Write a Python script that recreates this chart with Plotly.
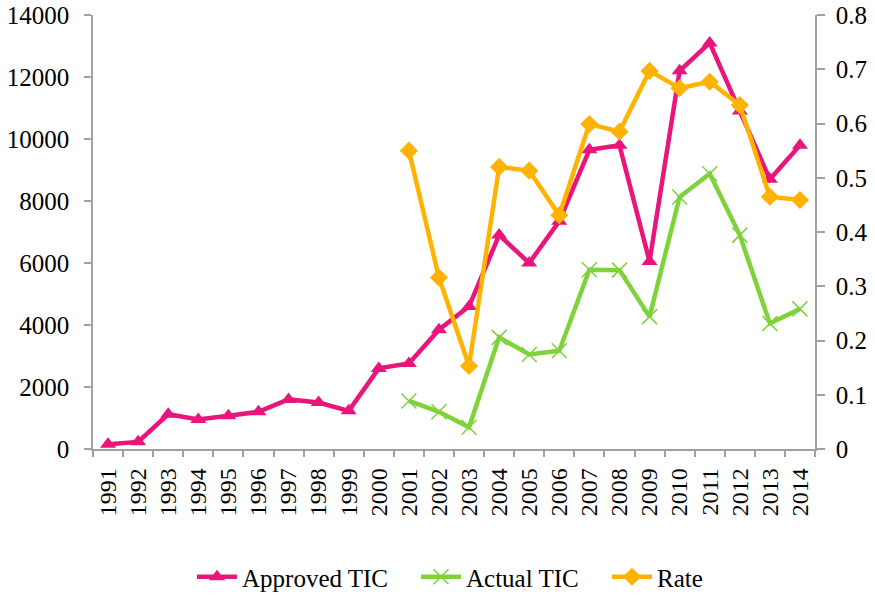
import plotly.graph_objects as go

years = [str(y) for y in range(1991, 2015)]
approved_tic = [150, 230, 1120, 950, 1070, 1200, 1600, 1500, 1230, 2600, 2760, 3850,
                4600, 6900, 6000, 7350, 9650, 9800, 6050, 12200, 13100, 10900, 8700, 9800]
actual_tic = [None] * 10 + [1550, 1200, 700, 3600, 3050, 3170, 5780, 5770, 4270,
                            8130, 8880, 6900, 4050, 4520]
rate = [None] * 10 + [0.550, 0.316, 0.153, 0.520, 0.513, 0.431, 0.599, 0.585, 0.697,
                      0.665, 0.677, 0.634, 0.465, 0.459]

left_ticks = [0, 2000, 4000, 6000, 8000, 10000, 12000, 14000]
left_labels = ["0", "2000", "4000", "6000", "8000", "10000", "12000", "14000"]
right_ticks = [0, 0.1, 0.2, 0.3, 0.4, 0.5, 0.6, 0.7, 0.8]
right_labels = ["0", "0.1", "0.2", "0.3", "0.4", "0.5", "0.6", "0.7", "0.8"]

PINK = "#E9157A"
GREEN = "#7ED23A"
ORANGE = "#FFB300"
AXIS = "#A0A0A0"
FONT = "Liberation Serif"

fig = go.Figure()
fig.add_trace(go.Scatter(x=years, y=approved_tic, name="Approved TIC", mode="lines+markers",
                         line=dict(color=PINK, width=4.5), legend="legend",
                         marker=dict(symbol="triangle-up", size=14, color=PINK)))
fig.add_trace(go.Scatter(x=years, y=actual_tic, name="Actual TIC", mode="lines+markers",
                         line=dict(color=GREEN, width=4.5), legend="legend2",
                         marker=dict(symbol="x-thin", size=15, color=GREEN,
                                     line=dict(color=GREEN, width=1.5))))
fig.add_trace(go.Scatter(x=years, y=rate, name="Rate", mode="lines+markers", yaxis="y2",
                         line=dict(color=ORANGE, width=4.5), legend="legend3",
                         marker=dict(symbol="diamond", size=14, color=ORANGE)))

def leg(xpx):
    return dict(orientation="h", xref="container", yref="container",
                x=xpx / 875, xanchor="left", y=1 - 577 / 595, yanchor="middle",
                font=dict(size=25, family=FONT, color="black"), itemwidth=40,
                bgcolor="rgba(0,0,0,0)")

fig.update_layout(
    width=875, height=595,
    margin=dict(l=93, r=60, t=15, b=146),
    paper_bgcolor="white", plot_bgcolor="white",
    font=dict(family=FONT, color="black", size=23),
    showlegend=True,
    legend=leg(192), legend2=leg(416), legend3=leg(607),
    xaxis=dict(type="category", range=[-0.5, 23.5], showgrid=False, zeroline=False,
               showline=True, linecolor=AXIS, linewidth=1.5, ticks="outside",
               ticklen=6, tickcolor=AXIS, tickwidth=1.5, tickson="boundaries",
               tickangle=-90, tickfont=dict(size=24, family=FONT),
               ticklabelstandoff=8, automargin=False),
    yaxis=dict(range=[0, 14000], tickvals=left_ticks, ticktext=left_labels,
               showgrid=False, zeroline=False,
               showline=True, linecolor=AXIS, linewidth=1.5, ticks="outside",
               ticklen=7, tickcolor=AXIS, tickwidth=1.5,
               tickfont=dict(size=25, family=FONT), ticklabelstandoff=10,
               automargin=False),
    yaxis2=dict(range=[0, 0.8], tickvals=right_ticks, ticktext=right_labels,
                overlaying="y", side="right", showgrid=False, zeroline=False,
                showline=True, linecolor=AXIS, linewidth=1.5, ticks="outside",
                ticklen=8, tickcolor=AXIS, tickwidth=1.5,
                tickfont=dict(size=25, family=FONT), ticklabelstandoff=6,
                automargin=False),
)

fig.write_html("out.html", config={"displayModeBar": False},
               post_script="document.body.style.margin='0';")
